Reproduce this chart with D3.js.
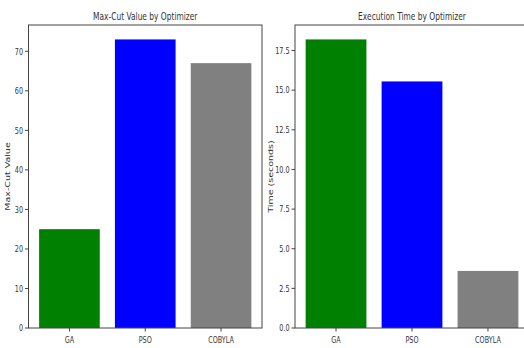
<!DOCTYPE html>
<html><head><meta charset="utf-8">
<script src="https://cdn.jsdelivr.net/npm/d3@7"></script>
<style>
body{margin:0;background:#fff;}
svg{display:block;}
text{font-family:"DejaVu Sans",sans-serif;fill:#333;}
</style></head>
<body><svg id="c" width="524" height="348"></svg>
<script>
const categories = ["GA","PSO","COBYLA"];
const colors = ["#008000","#0000ff","#808080"];
const maxCutValues = [25,73,67];
const timeValues = [18.2,15.55,3.6];
const maxCutTicks = [0,10,20,30,40,50,60,70];
const timeTicks = [0,2.5,5,7.5,10,12.5,15,17.5];
const titles = ["Max-Cut Value by Optimizer","Execution Time by Optimizer"];
const yLabels = ["Max-Cut Value","Time (seconds)"];

const svg = d3.select("#c");
const SX = 0.68;
const panels = [
  {x0:28.5, x1:262, vals:maxCutValues, ticks:maxCutTicks, fmt:d3.format("d"), title:titles[0], ylab:yLabels[0], labX:7},
  {x0:295, x1:529, vals:timeValues, ticks:timeTicks, fmt:d3.format(".1f"), title:titles[1], ylab:yLabels[1], labX:270}
];
const plotTop=25, plotBottom=328;

function ctext(g, x, y, str, size, anchor, rot){
  return g.append("text")
    .attr("transform", rot ? `translate(${x},${y}) rotate(-90) scale(1,${SX})` : `translate(${x},${y}) scale(${SX},1)`)
    .attr("text-anchor", anchor).attr("font-size", size).text(str);
}

panels.forEach(p=>{
  const g = svg.append("g");
  const x = d3.scaleLinear().domain([-0.54, 2.54]).range([p.x0, p.x1]);
  const ymax = d3.max(p.vals)*1.05;
  const y = d3.scaleLinear().domain([0, ymax]).range([plotBottom, plotTop]);
  g.selectAll("rect.bar").data(p.vals).join("rect")
    .attr("x",(d,i)=>x(i-0.4)).attr("width",(d,i)=>x(i+0.4)-x(i-0.4))
    .attr("y",d=>y(d)).attr("height",d=>y(0)-y(d))
    .attr("fill",(d,i)=>colors[i]);
  g.append("rect").attr("x",p.x0).attr("y",plotTop).attr("width",p.x1-p.x0).attr("height",plotBottom-plotTop)
    .attr("fill","none").attr("stroke","#444").attr("stroke-width",1);
  p.ticks.forEach(t=>{
    g.append("line").attr("x1",p.x0-3.5).attr("x2",p.x0).attr("y1",y(t)).attr("y2",y(t)).attr("stroke","#444");
    ctext(g, p.x0-5.5, y(t)+3.3, p.fmt(t), 9.5, "end", false);
  });
  categories.forEach((c,i)=>{
    g.append("line").attr("x1",x(i)).attr("x2",x(i)).attr("y1",plotBottom).attr("y2",plotBottom+3.5).attr("stroke","#444");
    ctext(g, x(i), plotBottom+15, c, 9.5, "middle", false);
  });
  ctext(g, (p.x0+p.x1)/2, 20, p.title, 11, "middle", false);
  ctext(g, p.labX+3, (plotTop+plotBottom)/2, p.ylab, 9.5, "middle", true);
});
</script></body></html>
